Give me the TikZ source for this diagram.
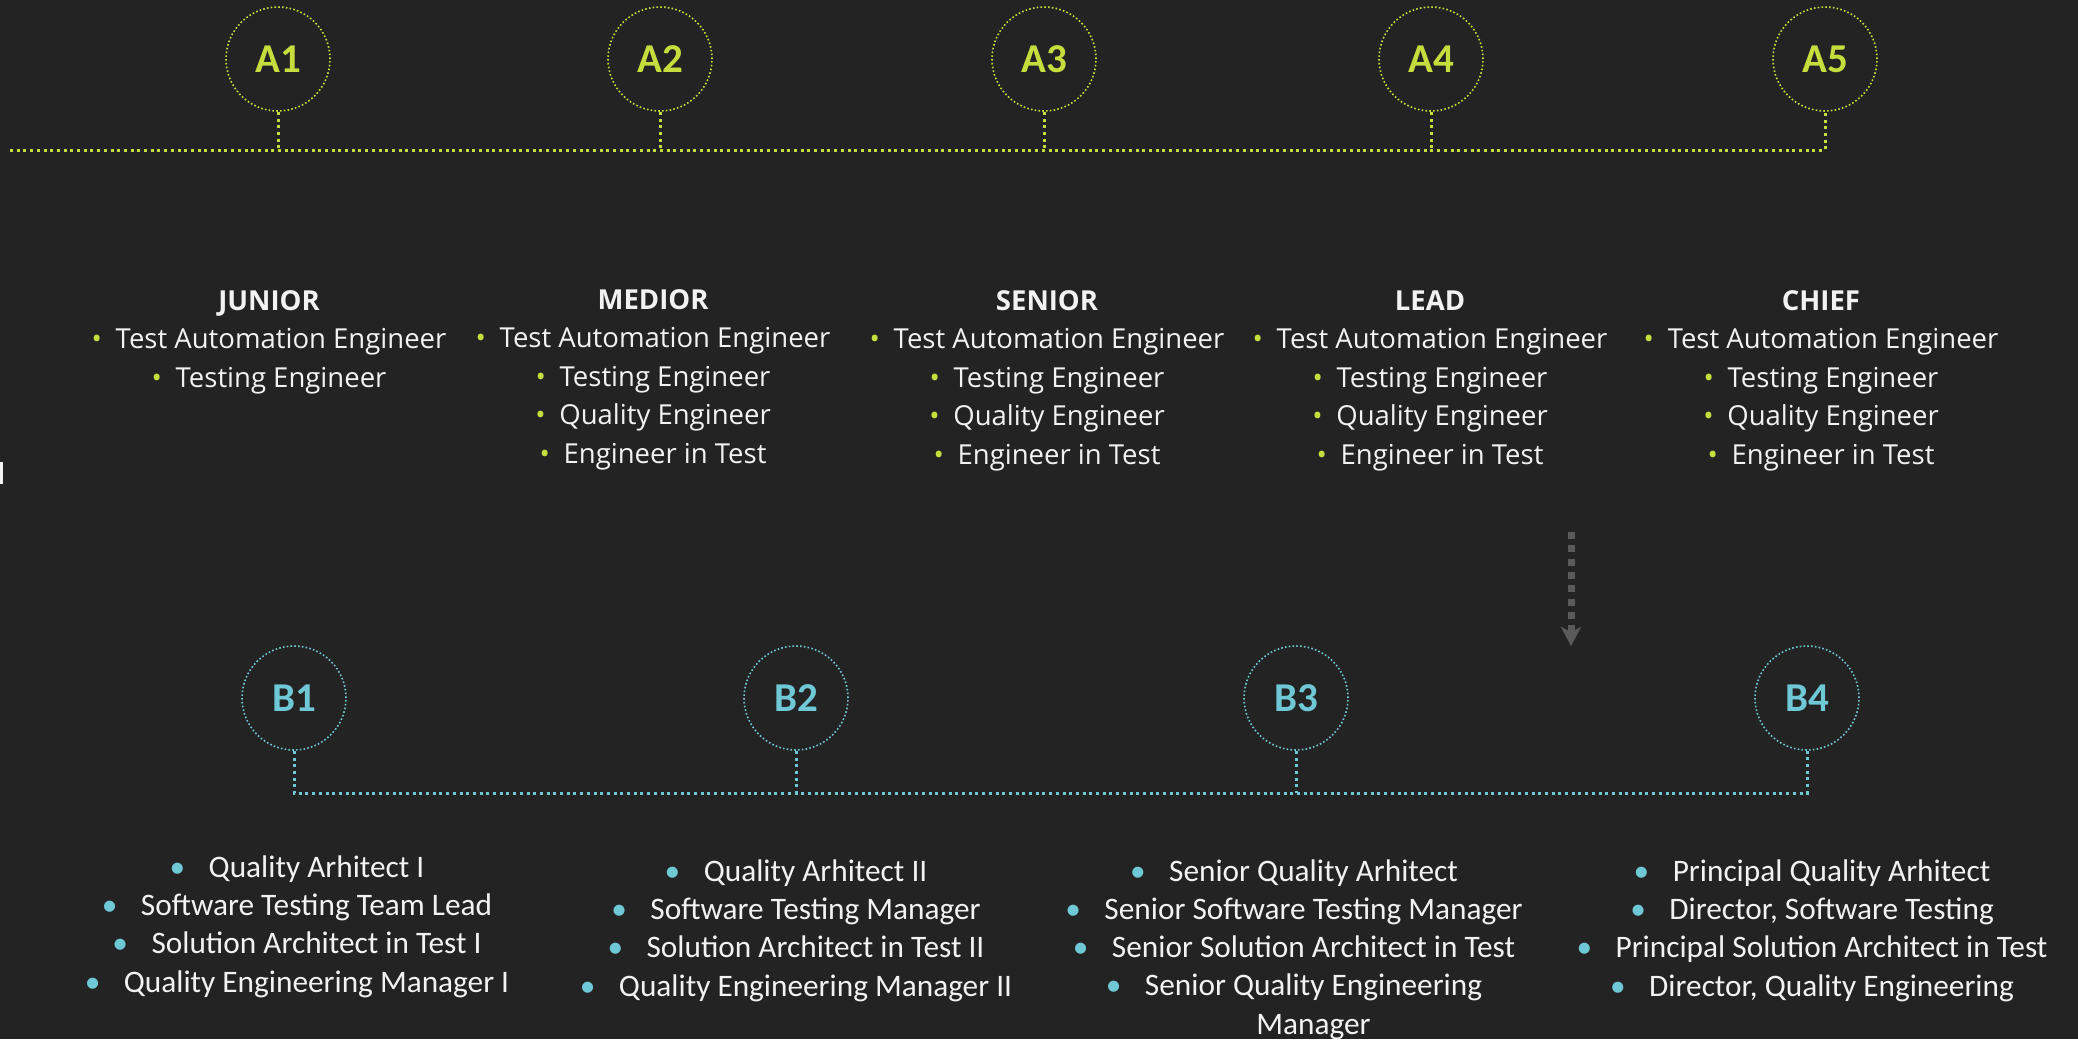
\documentclass[tikz,border=0pt]{standalone}
\usepackage{fontspec}
\setmainfont{Open Sans}
\newfontfamily\calibri{Carlito}
\usetikzlibrary{arrows.meta}
\definecolor{bgdark}{HTML}{232323}
\definecolor{limeA}{HTML}{C5DE3E}
\definecolor{cyanB}{HTML}{6FC8D6}
\definecolor{arrowgrey}{HTML}{5A5A5A}
\definecolor{textwhite}{HTML}{F2F2F2}
\newcommand{\bulA}{{\color{limeA}\textbullet}\hspace{0.5em}}
\newcommand{\bulB}{{\color{cyanB}\textbullet}\hspace{0.75em}}
\tikzset{
	levelA/.style={draw=limeA, circle, line width=1.6pt, dash pattern=on 1.6pt off 2.2pt, minimum size=104pt, inner sep=0pt, text=limeA, font=\calibri\bfseries\fontsize{41}{41}\selectfont},
	levelB/.style={levelA, draw=cyanB, text=cyanB},
	% dotted time lines
	trackA/.style={draw=limeA, line width=3pt, dash pattern=on 3pt off 3.7pt},
	trackB/.style={trackA, draw=cyanB},
	% base = baseline of the last line
	rolesA/.style={align=center, anchor=base, inner sep=0pt, text=textwhite, font=\fontsize{27.5}{38.5}\selectfont},
	rolesB/.style={rolesA, font=\calibri\fontsize{31.3}{38.1}\selectfont},
	handoff/.style={draw=arrowgrey, line width=7pt, dash pattern=on 7pt off 6.3pt, -{Stealth[length=19pt, width=20pt, inset=5pt]}},
}

\begin{document}
\begin{tikzpicture}[x=1pt, y=-1pt]
	\fill[bgdark] (0,0) rectangle (2078,1039);
	\useasboundingbox (0,0) rectangle (2078,1039);
	\draw[textwhite, line width=2.5pt] (1.3,462) -- (1.3,484);

	% career track A
	\node (a1) [levelA] at (278,59) {A1};
	\node (a2) [levelA] at (660,59) {A2};
	\node (a3) [levelA] at (1044,59) {A3};
	\node (a4) [levelA] at (1431,59) {A4};
	\node (a5) [levelA] at (1825,59) {A5};
	\coordinate (topline) at (10,150);

	\node (junior) [rolesA] at (269,387) {\textbf{JUNIOR}\\ \bulA Test Automation Engineer\\ \bulA Testing Engineer};
	\node (medior) [rolesA] at (653,463) {\textbf{MEDIOR}\\ \bulA Test Automation Engineer\\ \bulA Testing Engineer\\ \bulA Quality Engineer\\ \bulA Engineer in Test};
	\node (senior) [rolesA] at (1047,464) {\textbf{SENIOR}\\ \bulA Test Automation Engineer\\ \bulA Testing Engineer\\ \bulA Quality Engineer\\ \bulA Engineer in Test};
	\node (lead) [rolesA] at (1430,464) {\textbf{LEAD}\\ \bulA Test Automation Engineer\\ \bulA Testing Engineer\\ \bulA Quality Engineer\\ \bulA Engineer in Test};
	\node (chief) [rolesA] at (1821,464) {\textbf{CHIEF}\\ \bulA Test Automation Engineer\\ \bulA Testing Engineer\\ \bulA Quality Engineer\\ \bulA Engineer in Test};

	% career track B
	\node (b1) [levelB] at (294,698) {B1};
	\node (b2) [levelB] at (796,698) {B2};
	\node (b3) [levelB] at (1296,698) {B3};
	\node (b4) [levelB] at (1807,698) {B4};
	\coordinate (botline) at (0,793);

	\node (b1roles) [rolesB] at (297,992) {\bulB Quality Arhitect I\\ \bulB Software Testing Team Lead\\ \bulB Solution Architect in Test I\\ \bulB Quality Engineering Manager I};
	\node (b2roles) [rolesB] at (796,996) {\bulB Quality Arhitect II\\ \bulB Software Testing Manager\\ \bulB Solution Architect in Test II\\ \bulB Quality Engineering Manager II};
	\node (b3roles) [rolesB] at (1294,1034) {\bulB Senior Quality Arhitect\\ \bulB Senior Software Testing Manager\\ \bulB Senior Solution Architect in Test\\ \bulB Senior Quality Engineering\\ \phantom{\bulB}Manager};
	\node (b4roles) [rolesB] at (1812,996) {\bulB Principal Quality Arhitect\\ \bulB Director, Software Testing\\ \bulB Principal Solution Architect in Test\\ \bulB Director, Quality Engineering};

	\begin{scope}
		\draw[trackA] (topline) -- (a5 |- topline) -- (a5.south);
		\foreach \n in {a1,a2,a3,a4}
			\draw[trackA] (\n.south) -- (\n |- topline);
		\draw[trackB] (b1.south) -- (b1 |- botline) -- (b4 |- botline) -- (b4.south);
		\foreach \n in {b2,b3}
			\draw[trackB] (\n.south) -- (\n |- botline);
	\end{scope}

	\coordinate (droptop) at (1571,532);
	\coordinate (dropend) at (1571,646);
	\draw[handoff] (droptop) -- (dropend);
\end{tikzpicture}
\end{document}
